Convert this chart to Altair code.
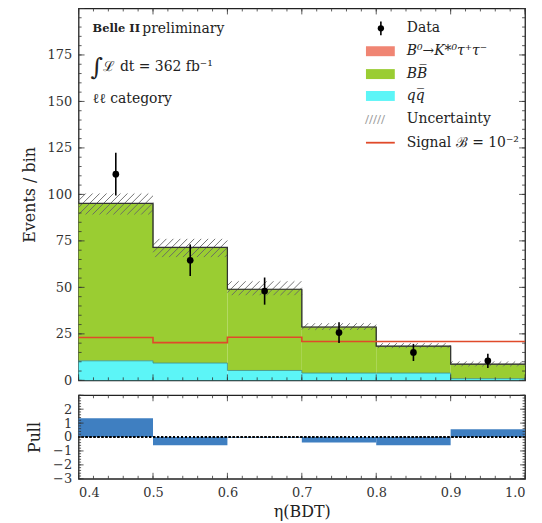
import altair as alt
import pandas as pd
import numpy as np

# ---------------- data ----------------
bin_lo = [0.4, 0.5, 0.6, 0.7, 0.8, 0.9]
bin_hi = [0.5, 0.6, 0.7, 0.8, 0.9, 1.0]
qqbar = [10.5, 9.3, 5.3, 3.9, 3.9, 0.9]
bbbar = [84.6, 62.1, 43.6, 24.7, 14.4, 7.7]
sig_stack = [0.1, 0.1, 0.1, 0.1, 0.1, 0.1]
unc_lo = [89.2, 66.3, 45.8, 27.1, 17.3, 7.5]
unc_hi = [100.5, 76.1, 53.3, 30.7, 20.0, 10.2]
signal_line = [23.0, 20.3, 23.2, 20.9, 20.9, 20.9]
data_y = [110.9, 64.6, 48.0, 25.7, 15.0, 10.5]
data_err = [11.5, 8.5, 7.3, 5.6, 4.6, 3.8]
pull = [1.35, -0.6, -0.05, -0.4, -0.6, 0.55]

y_ticks = [0, 25, 50, 75, 100, 125, 150, 175]
pull_ticks = [-3, -2, -1, 0, 1, 2]
x_ticks = [0.4, 0.5, 0.6, 0.7, 0.8, 0.9, 1.0]

W, H, HP = 449, 374, 84
FONT = "DejaVu Serif"

C_QQ = "#5cf5f7"
C_BB = "#9acd32"
C_SIG = "#f08573"
C_RED = "#e04a2a"
C_PULL = "#3f7fc1"

# ---------------- tables ----------------
n = len(bin_lo)
centers = [(a + b) / 2 for a, b in zip(bin_lo, bin_hi)]
qq_top = qqbar
bb_top = [q + b for q, b in zip(qqbar, bbbar)]
tot_top = [t + s for t, s in zip(bb_top, sig_stack)]

hist = pd.DataFrame({
    "lo": bin_lo, "hi": bin_hi, "zero": [0.0] * n,
    "qq": qq_top, "bb": bb_top, "tot": tot_top,
    "c": centers, "d": data_y,
    "dlo": [d - e for d, e in zip(data_y, data_err)],
    "dhi": [d + e for d, e in zip(data_y, data_err)],
    "pull": pull,
})

edges = bin_lo + [bin_hi[-1]]
def step_df(vals):
    return pd.DataFrame({"x": edges, "y": list(vals) + [vals[-1]]})

# hatch segments for the uncertainty band (45 deg in pixel space)
sx, sy = W / 0.6, H / 200.0
hx, hx2, hy, hy2 = [], [], [], []
spacing = 7.0
for lo, hi, ulo, uhi in zip(bin_lo, bin_hi, unc_lo, unc_hi):
    x0, x1 = (lo - 0.4) * sx, (hi - 0.4) * sx
    y0, y1 = ulo * sy, uhi * sy
    h = y1 - y0
    k = np.floor((x0 - h) / spacing) * spacing
    while k <= x1:
        ua = max(0.0, x0 - k)
        ub = min(h, x1 - k)
        if ub > ua:
            hx.append((k + ua) / sx + 0.4)
            hx2.append((k + ub) / sx + 0.4)
            hy.append((y0 + ua) / sy)
            hy2.append((y0 + ub) / sy)
        k += spacing
hatch = pd.DataFrame({"x": hx, "x2": hx2, "y": hy, "y2": hy2})

XS = alt.Scale(domain=[0.4, 1.0], nice=False, zero=False)
YS = alt.Scale(domain=[0, 200], nice=False)
PS = alt.Scale(domain=[-3, 3], nice=False)

y_axis = alt.Axis(values=y_ticks, title="Events / bin", labelPadding=7,
                  titlePadding=10)

def X(f):
    return alt.X(f, type="quantitative", scale=XS, axis=None)

def Y(f):
    return alt.Y(f, type="quantitative", scale=YS, axis=y_axis)

def X2(f):
    return alt.X2(f)

def Y2(f):
    return alt.Y2(f)

base = alt.Chart(hist)

qq_rect = base.mark_rect(color=C_QQ).encode(x=X("lo"), x2=X2("hi"), y=Y("zero"), y2=Y2("qq"))
bb_rect = base.mark_rect(color=C_BB).encode(x=X("lo"), x2=X2("hi"), y=Y("qq"), y2=Y2("bb"))
sg_rect = base.mark_rect(color=C_SIG).encode(x=X("lo"), x2=X2("hi"), y=Y("bb"), y2=Y2("tot"))

def step_line(vals, color, width):
    return alt.Chart(step_df(vals)).mark_line(
        interpolate="step-after", color=color, strokeWidth=width
    ).encode(x=X("x"), y=Y("y"))

qq_line = step_line(qq_top, "#3a8f8f", 0.8)
bb_line = step_line(bb_top, "#4f6f2a", 0.8)
tot_line = step_line(tot_top, "#333333", 1.2)
sig_line = step_line(signal_line, C_RED, 1.6)

hatch_layer = alt.Chart(hatch).mark_rule(color="#666666", strokeWidth=0.9).encode(
    x=X("x"), x2=X2("x2"), y=Y("y"), y2=Y2("y2"))

err = base.mark_rule(color="black", strokeWidth=1.6).encode(x=X("c"), y=Y("dlo"), y2=Y2("dhi"))
pts = base.mark_circle(color="black", size=45, opacity=1).encode(x=X("c"), y=Y("d"))

# inward ticks (matplotlib style)
xmaj = pd.DataFrame({"x": x_ticks})
xmin = pd.DataFrame({"x": [round(0.4 + 0.02 * i, 2) for i in range(31)]})
ymaj = pd.DataFrame({"y": y_ticks + [200]})
ymin = pd.DataFrame({"y": list(range(0, 201, 5))})

def xticks(df, length, h, scale_fn):
    bot = alt.Chart(df).mark_rule(color="#333", strokeWidth=0.8).encode(
        x=scale_fn("x"), y=alt.value(h), y2=alt.value(h - length))
    top = alt.Chart(df).mark_rule(color="#333", strokeWidth=0.8).encode(
        x=scale_fn("x"), y=alt.value(0), y2=alt.value(length))
    return [bot, top]

def yticks(df, length, yfn):
    left = alt.Chart(df).mark_rule(color="#333", strokeWidth=0.8).encode(
        y=yfn("y"), x=alt.value(0), x2=alt.value(length))
    right = alt.Chart(df).mark_rule(color="#333", strokeWidth=0.8).encode(
        y=yfn("y"), x=alt.value(W), x2=alt.value(W - length))
    return [left, right]

main_ticks = xticks(xmaj, 6, H, X) + xticks(xmin, 3, H, X) + yticks(ymaj, 6, Y) + yticks(ymin, 3, Y)

# annotations
one = pd.DataFrame({"a": [0]})
def txt(s, x, y, size=14, weight="normal", style="normal", color="#222", font=FONT):
    return alt.Chart(one).mark_text(
        text=s, align="left", baseline="middle", font=font, fontSize=size,
        fontWeight=weight, fontStyle=style, color=color
    ).encode(x=alt.value(x), y=alt.value(y))

annot = [
    txt("Belle II", 14, 21, size=11.5, weight="bold"),
    txt("preliminary", 64, 21, size=14),
    txt("\u222b", 12, 60, size=24, style="italic"),
    txt("\u2112 dt = 362 fb\u207b\u00b9", 25, 59, size=14),
    txt("\u2113\u2113 category", 14, 91, size=14),
]

# legend
LX = 330
leg_rows = [20, 43, 66, 88, 111, 135]
legend = [
    alt.Chart(one).mark_rule(color="black", strokeWidth=1.6).encode(
        x=alt.value(304), y=alt.value(leg_rows[0] - 7), y2=alt.value(leg_rows[0] + 7)),
    alt.Chart(one).mark_circle(color="black", size=40, opacity=1).encode(
        x=alt.value(304), y=alt.value(leg_rows[0])),
    txt("Data", LX, leg_rows[0]),
]
for row, col in zip(leg_rows[1:4], [C_SIG, C_BB, C_QQ]):
    legend.append(alt.Chart(one).mark_rect(color=col).encode(
        x=alt.value(289), x2=alt.value(318), y=alt.value(row - 5), y2=alt.value(row + 5)))
legend += [
    txt("B\u2070\u2192K*\u2070\u03c4\u207a\u03c4\u207b", LX, leg_rows[1], style="italic"),
    txt("BB\u0305", LX, leg_rows[2], style="italic"),
    txt("qq\u0305", LX, leg_rows[3], style="italic"),
    txt("/////", 288, leg_rows[4], size=12, color="#999999"),
    txt("Uncertainty", LX, leg_rows[4]),
    alt.Chart(one).mark_rule(color=C_RED, strokeWidth=1.8).encode(
        x=alt.value(289), x2=alt.value(318), y=alt.value(leg_rows[5])),
    txt("Signal \u212c = 10\u207b\u00b2", LX, leg_rows[5]),
]

main = alt.layer(
    qq_rect, bb_rect, sg_rect, hatch_layer, qq_line, bb_line, tot_line, sig_line,
    err, pts, *main_ticks, *annot, *legend
).properties(width=W, height=H)

# ---------------- pull panel ----------------
px_axis = alt.Axis(values=x_ticks, format=".1f", title="\u03b7(BDT)", labelPadding=8,
                   titlePadding=4)
py_axis = alt.Axis(values=pull_ticks, title="Pull", labelPadding=7, titlePadding=10)

def PX(f):
    return alt.X(f, type="quantitative", scale=XS, axis=px_axis)

def PY(f):
    return alt.Y(f, type="quantitative", scale=PS, axis=py_axis)

pull_bars = base.mark_rect(color=C_PULL).encode(x=PX("lo"), x2=alt.X2("hi"), y=PY("zero"), y2=alt.Y2("pull"))
zero_line = base.mark_rule(color="black", strokeWidth=1.2, strokeDash=[2, 2]).encode(y=PY("zero"))
pmaj = pd.DataFrame({"y": pull_ticks + [3]})
pmin = pd.DataFrame({"y": [round(-3 + 0.2 * i, 1) for i in range(31)]})
pull_ticks_layers = xticks(xmaj, 6, HP, PX) + xticks(xmin, 3, HP, PX) + yticks(pmaj, 5, PY) + yticks(pmin, 2.5, PY)

pull_chart = alt.layer(pull_bars, zero_line, *pull_ticks_layers).properties(width=W, height=HP)

chart = alt.vconcat(main, pull_chart, spacing=15, bounds="flush").properties(
    padding={"left": 12, "top": -3, "right": 5, "bottom": 0}
).configure_view(
    stroke="#222222", strokeWidth=1.3
).configure_axis(
    labelFont=FONT, labelFontSize=13, labelColor="#333333",
    titleFont=FONT, titleFontSize=16, titleFontWeight="normal", titleColor="#222222",
    ticks=False, domain=False, grid=False
)

chart.save("out.html", embed_options={"renderer": "svg", "actions": False})
